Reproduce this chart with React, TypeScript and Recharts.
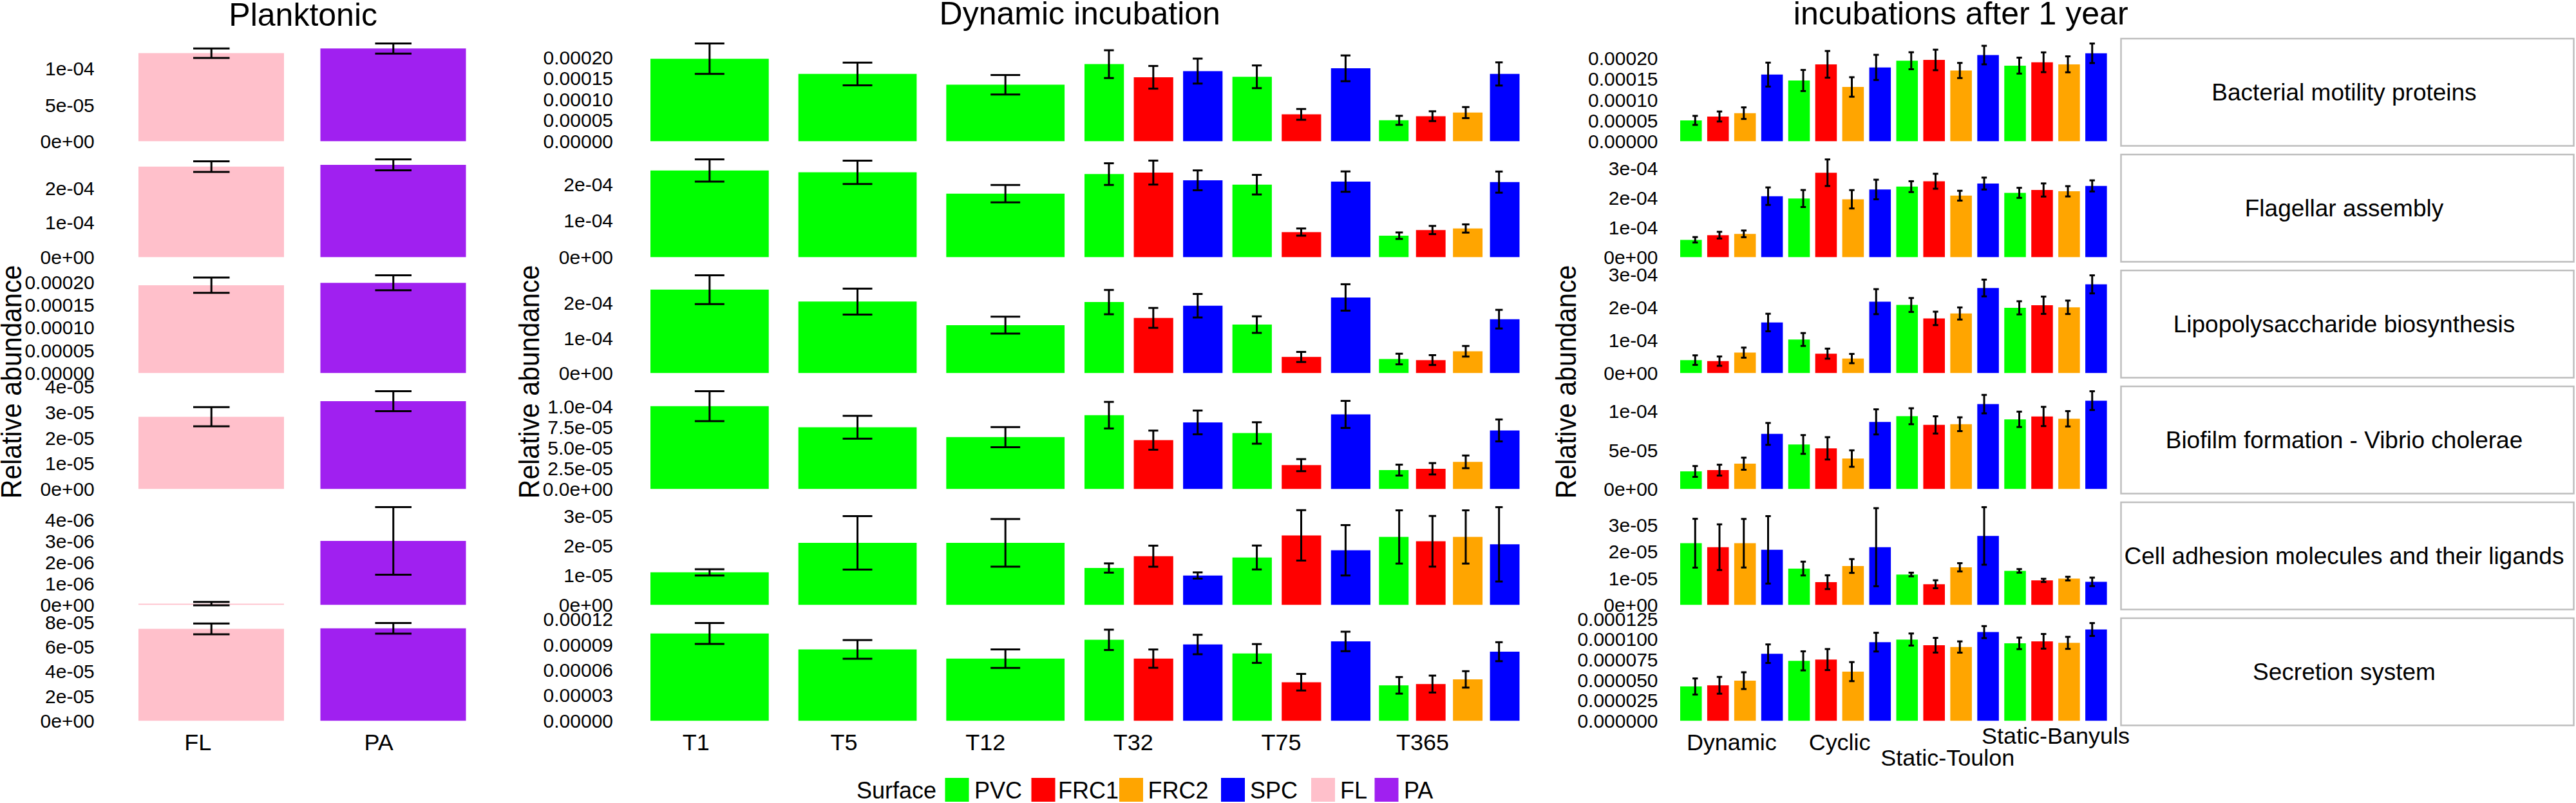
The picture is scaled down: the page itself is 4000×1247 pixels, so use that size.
import React from "react";
import {
  Bar,
  Cell,
  ComposedChart,
  ErrorBar,
  Scatter,
  XAxis,
  YAxis,
} from "recharts";

// All abundance values are in units of 1e-5
const surfaceColors: Record<string, string> = {
  PVC: "#00ff00",
  FRC1: "#ff0000",
  FRC2: "#ffa500",
  SPC: "#0000ff",
  FL: "#ffc0cb",
  PA: "#a020f0",
};
const legendItems = ["PVC", "FRC1", "FRC2", "SPC", "FL", "PA"];

const pathways = [
  "Bacterial motility proteins",
  "Flagellar assembly",
  "Lipopolysaccharide biosynthesis",
  "Biofilm formation - Vibrio cholerae",
  "Cell adhesion molecules and their ligands",
  "Secretion system",
];

const plankLabels = ["FL", "PA"];
const plankSurfaces = [["FL"], ["PA"]];
const dynamicLabels = ["T1", "T5", "T12", "T32", "T75", "T365"];
const dynamicSurfaces = [
  ["PVC"],
  ["PVC"],
  ["PVC"],
  ["PVC", "FRC1", "SPC"],
  ["PVC", "FRC1", "SPC"],
  ["PVC", "FRC1", "FRC2", "SPC"],
];
const yearLabels = ["Dynamic", "Cyclic", "Static-Toulon", "Static-Banyuls"];
const yearSurfaces = [
  ["PVC", "FRC1", "FRC2", "SPC"],
  ["PVC", "FRC1", "FRC2", "SPC"],
  ["PVC", "FRC1", "FRC2", "SPC"],
  ["PVC", "FRC1", "FRC2", "SPC"],
];

// Planktonic
const plankMotilityMean = [12.13, 12.77];
const plankMotilitySe = [0.66, 0.69];
const plankFlagellarMean = [26.2, 26.7];
const plankFlagellarSe = [1.53, 1.57];
const plankLpsMean = [19.3, 19.83];
const plankLpsSe = [1.67, 1.64];
const plankBiofilmMean = [2.83, 3.44];
const plankBiofilmSe = [0.374, 0.389];
const plankAdhesionMean = [0.0055, 0.3006];
const plankAdhesionSe = [0.008, 0.159];
const plankSecretionMean = [7.46, 7.5];
const plankSecretionSe = [0.44, 0.43];

// Dynamic incubation
const dynMotilityMean = [19.7, 16.06, 13.48, 18.4, 15.26, 16.74, 15.38, 6.4, 17.4, 4.98, 5.97, 6.83, 16.06];
const dynMotilitySe = [3.63, 2.71, 2.34, 3.32, 2.71, 2.98, 2.71, 1.29, 3.08, 1.08, 1.17, 1.32, 2.77];
const dynFlagellarMean = [23.83, 23.33, 17.45, 22.84, 23.26, 21.13, 19.93, 6.88, 20.78, 5.89, 7.45, 7.87, 20.64];
const dynFlagellarSe = [3.05, 3.23, 2.38, 2.98, 3.3, 2.73, 2.7, 0.99, 2.8, 0.89, 1.13, 1.13, 2.91];
const dynLpsMean = [23.85, 20.44, 13.7, 20.3, 15.78, 19.26, 13.85, 4.59, 21.63, 4.0, 3.7, 6.22, 15.41];
const dynLpsSe = [4.11, 3.7, 2.41, 3.48, 2.85, 3.37, 2.37, 1.44, 3.78, 1.52, 1.41, 1.52, 2.67];
const dynBiofilmMean = [10.03, 7.47, 6.28, 8.94, 5.91, 8.06, 6.78, 2.88, 9.03, 2.28, 2.44, 3.28, 7.09];
const dynBiofilmSe = [1.81, 1.39, 1.22, 1.61, 1.16, 1.44, 1.3, 0.73, 1.64, 0.66, 0.69, 0.77, 1.33];
const dynAdhesionMean = [1.1, 2.1, 2.1, 1.247, 1.648, 0.994, 1.604, 2.354, 1.848, 2.3, 2.153, 2.3, 2.05];
const dynAdhesionSe = [0.105, 0.907, 0.806, 0.157, 0.357, 0.105, 0.405, 0.854, 0.854, 0.902, 0.859, 0.902, 1.26];
const dynSecretionMean = [10.3, 8.42, 7.33, 9.55, 7.33, 9.0, 7.94, 4.55, 9.36, 4.18, 4.33, 4.88, 8.15];
const dynSecretionSe = [1.23, 1.11, 1.09, 1.2, 1.08, 1.15, 1.11, 0.98, 1.15, 0.98, 1.0, 0.97, 1.12];

// incubations after 1 year
const yearMotilityMean = [5.03, 5.96, 6.77, 16.09, 14.66, 18.57, 13.1, 17.83, 19.44, 19.63, 17.08, 20.81, 18.26, 19.07, 18.57, 21.24];
const yearMotilitySe = [1.09, 1.21, 1.4, 2.89, 2.55, 3.23, 2.36, 3.04, 2.05, 2.48, 1.83, 2.24, 1.93, 2.39, 1.93, 2.36];
const yearFlagellarMean = [5.84, 7.41, 7.85, 20.58, 19.79, 28.51, 19.53, 22.84, 23.8, 25.63, 20.75, 24.85, 21.71, 22.67, 22.23, 24.06];
const yearFlagellarSe = [0.92, 1.13, 1.13, 2.96, 2.88, 4.49, 3.1, 3.31, 1.83, 2.53, 1.66, 2.01, 1.7, 2.22, 1.74, 1.87];
const yearLpsMean = [3.94, 3.62, 6.22, 15.43, 10.24, 5.91, 4.41, 21.81, 20.79, 16.69, 18.19, 25.98, 19.92, 20.71, 20.08, 27.09];
const yearLpsSe = [1.46, 1.42, 1.54, 2.68, 1.97, 1.54, 1.42, 3.82, 2.13, 2.05, 1.85, 2.56, 2.01, 2.64, 2.05, 2.76];
const yearBiofilmMean = [2.25, 2.42, 3.25, 7.09, 5.73, 5.23, 3.91, 8.64, 9.37, 8.25, 8.34, 10.93, 8.97, 9.34, 9.04, 11.38];
const yearBiofilmSe = [0.7, 0.7, 0.78, 1.41, 1.21, 1.44, 1.06, 1.62, 1.03, 1.11, 0.89, 1.19, 0.99, 1.24, 0.99, 1.21];
const yearAdhesionMean = [2.32, 2.17, 2.32, 2.07, 1.365, 0.852, 1.462, 2.17, 1.142, 0.774, 1.413, 2.594, 1.278, 0.92, 0.987, 0.864];
const yearAdhesionSe = [0.92, 0.86, 0.915, 1.27, 0.26, 0.26, 0.26, 1.47, 0.068, 0.15, 0.155, 1.084, 0.068, 0.06, 0.07, 0.16];
const yearSecretionMean = [4.2, 4.35, 4.92, 8.23, 7.35, 7.51, 6.03, 9.65, 9.97, 9.27, 9.05, 10.88, 9.5, 9.75, 9.56, 11.2];
const yearSecretionSe = [0.99, 1.03, 1.03, 1.14, 1.17, 1.29, 1.17, 1.15, 0.74, 0.9, 0.69, 0.74, 0.71, 0.9, 0.74, 0.79];

// y axis ticks
const ticks5 = [0, 5, 10, 15, 20];
const labels5 = ["0.00000", "0.00005", "0.00010", "0.00015", "0.00020"];
const ticks10 = [0, 10, 20];
const labels10 = ["0e+00", "1e-04", "2e-04"];
const ticks30 = [0, 10, 20, 30];
const labels30 = ["0e+00", "1e-04", "2e-04", "3e-04"];
const ticksHalf = [0, 5, 10];
const labelsHalf = ["0e+00", "5e-05", "1e-04"];
const ticks3e5 = [0, 1, 2, 3];
const labels3e5 = ["0e+00", "1e-05", "2e-05", "3e-05"];

const plankPanels = [
  { mean: plankMotilityMean, se: plankMotilitySe, ticks: ticksHalf, labels: labelsHalf },
  { mean: plankFlagellarMean, se: plankFlagellarSe, ticks: ticks10, labels: labels10 },
  { mean: plankLpsMean, se: plankLpsSe, ticks: ticks5, labels: labels5 },
  { mean: plankBiofilmMean, se: plankBiofilmSe, ticks: [0, 1, 2, 3, 4], labels: ["0e+00", "1e-05", "2e-05", "3e-05", "4e-05"] },
  { mean: plankAdhesionMean, se: plankAdhesionSe, ticks: [0, 0.1, 0.2, 0.3, 0.4], labels: ["0e+00", "1e-06", "2e-06", "3e-06", "4e-06"] },
  { mean: plankSecretionMean, se: plankSecretionSe, ticks: [0, 2, 4, 6, 8], labels: ["0e+00", "2e-05", "4e-05", "6e-05", "8e-05"] },
];
const dynPanels = [
  { mean: dynMotilityMean, se: dynMotilitySe, ticks: ticks5, labels: labels5 },
  { mean: dynFlagellarMean, se: dynFlagellarSe, ticks: ticks10, labels: labels10 },
  { mean: dynLpsMean, se: dynLpsSe, ticks: ticks10, labels: labels10 },
  { mean: dynBiofilmMean, se: dynBiofilmSe, ticks: [0, 2.5, 5, 7.5, 10], labels: ["0.0e+00", "2.5e-05", "5.0e-05", "7.5e-05", "1.0e-04"] },
  { mean: dynAdhesionMean, se: dynAdhesionSe, ticks: ticks3e5, labels: labels3e5 },
  { mean: dynSecretionMean, se: dynSecretionSe, ticks: [0, 3, 6, 9, 12], labels: ["0.00000", "0.00003", "0.00006", "0.00009", "0.00012"] },
];
const yearPanels = [
  { mean: yearMotilityMean, se: yearMotilitySe, ticks: ticks5, labels: labels5 },
  { mean: yearFlagellarMean, se: yearFlagellarSe, ticks: ticks30, labels: labels30 },
  { mean: yearLpsMean, se: yearLpsSe, ticks: ticks30, labels: labels30 },
  { mean: yearBiofilmMean, se: yearBiofilmSe, ticks: ticksHalf, labels: labelsHalf },
  { mean: yearAdhesionMean, se: yearAdhesionSe, ticks: ticks3e5, labels: labels3e5 },
  { mean: yearSecretionMean, se: yearSecretionSe, ticks: [0, 2.5, 5, 7.5, 10, 12.5], labels: ["0.000000", "0.000025", "0.000050", "0.000075", "0.000100", "0.000125"] },
];

const FONT = "'Liberation Sans', Arial, sans-serif";
const AXIS_W = 170; // room for the y tick labels, left of the plot
const RIGHT_ROOM = 60; // Static-Banyuls sticks out past the last band
const PAD = 24; // room for tick labels that stick out above/below a panel
const PANEL_H = 166.8;
const ROW_STEP = 180;
const PANEL_TOP = 60;
const LABEL_H = 100;

const columns = [
  { id: "plank", plotLeft: 186.7, plotRight: 751.7, tickGap: 40.2, panels: plankPanels, surfaces: plankSurfaces, xLabels: plankLabels, xAnchor: "end", xDy: [6, 6] },
  { id: "dyn", plotLeft: 987, plotRight: 2365, tickGap: 35, panels: dynPanels, surfaces: dynamicSurfaces, xLabels: dynamicLabels, xAnchor: "end", xDy: [6, 6, 6, 6, 6, 6] },
  { id: "year", plotLeft: 2604.5, plotRight: 3275.5, tickGap: 30.5, panels: yearPanels, surfaces: yearSurfaces, xLabels: yearLabels, xAnchor: "middle", xDy: [6, 6, 30, -4] },
];

type Column = (typeof columns)[number];
type Panel = (typeof plankPanels)[number];

// Bars sit on a full slot of their band, error bars on a 0.9 dodge, as ggplot does
const buildRows = (surfaces: string[][], panel: Panel) => {
  const rows: any[] = [];
  const errs: any[] = [];
  let i = 0;
  surfaces.forEach((group, band) => {
    const of = group.length;
    group.forEach((surface, slot) => {
      const mean = panel.mean[i];
      const se = panel.se[i];
      const x = band + (slot + 0.5) / of;
      rows.push({ x, [`x${of}`]: x, surface, [`bar${of}`]: mean });
      errs.push({ ex: band + 0.5 + ((slot - (of - 1) / 2) * 0.9) / of, mean, se, of });
      i += 1;
    });
  });
  return { rows, errs };
};

const PanelChart = ({ column, panel, rowIndex }: { column: Column; panel: Panel; rowIndex: number }) => {
  const { rows, errs } = buildRows(column.surfaces, panel);
  const bands = column.surfaces.length;
  const plotW = column.plotRight - column.plotLeft;
  const bandW = plotW / bands;
  const slotCounts = [...new Set(column.surfaces.map((g) => g.length))];
  const top = Math.max(...panel.mean.map((m, i) => m + panel.se[i]));
  const showLabels = rowIndex === 5;
  const bottom = showLabels ? LABEL_H : PAD;
  const centers = column.surfaces.map((_, b) => b + 0.5);

  const renderXTick = (props: any) => (
    <text
      x={props.x}
      y={props.y + column.xDy[props.index]}
      textAnchor={column.xAnchor}
      fontSize={36}
      fontFamily={FONT}
      fill="#000"
    >
      {column.xLabels[props.index]}
    </text>
  );

  return (
    <div
      style={{
        position: "absolute",
        left: column.plotLeft - AXIS_W,
        top: PANEL_TOP + ROW_STEP * rowIndex - PAD,
      }}
    >
      <ComposedChart
        width={AXIS_W + plotW + RIGHT_ROOM}
        height={PAD + PANEL_H + bottom}
        data={rows}
        margin={{ top: PAD, right: RIGHT_ROOM, bottom: showLabels ? 0 : PAD, left: 0 }}
      >
        {slotCounts.map((of) => (
          <XAxis
            key={of}
            xAxisId={`of${of}`}
            dataKey={`x${of}`}
            type="number"
            domain={[0, bands]}
            allowDataOverflow
            hide
          />
        ))}
        <XAxis xAxisId="err" dataKey="ex" type="number" domain={[0, bands]} allowDataOverflow hide />
        <XAxis
          xAxisId="labels"
          dataKey="x"
          type="number"
          domain={[0, bands]}
          allowDataOverflow
          ticks={centers}
          interval={0}
          hide={!showLabels}
          height={LABEL_H}
          axisLine={false}
          tickLine={false}
          tickSize={0}
          tick={renderXTick}
        />
        <YAxis
          dataKey="mean"
          type="number"
          width={AXIS_W}
          domain={[-0.05 * top, 1.05 * top]}
          allowDataOverflow
          ticks={panel.ticks}
          interval={0}
          axisLine={false}
          tickLine={false}
          tickSize={0}
          tickMargin={column.tickGap}
          tick={{ fontSize: 30, fill: "#000", fontFamily: FONT }}
          tickFormatter={(_: number, index: number) => panel.labels[index]}
        />
        {slotCounts.map((of) => (
          <Bar
            key={of}
            xAxisId={`of${of}`}
            dataKey={`bar${of}`}
            barSize={(0.8 * bandW) / of}
            isAnimationActive={false}
          >
            {rows.map((r, i) => (
              <Cell key={`cell-${i}`} fill={surfaceColors[r.surface]} />
            ))}
          </Bar>
        ))}
        {slotCounts.map((of) => (
          <Scatter
            key={of}
            xAxisId="err"
            data={errs.filter((e) => e.of === of)}
            shape={() => null}
            isAnimationActive={false}
          >
            <ErrorBar
              dataKey="se"
              direction="y"
              width={(0.1 * bandW) / of}
              stroke="#000"
              strokeWidth={3}
              isAnimationActive={false}
            />
          </Scatter>
        ))}
      </ComposedChart>
    </div>
  );
};

const legendSwatchX = [1467.5, 1601.5, 1738, 1896, 2036, 2134.5];
const legendTextX = [1513, 1643, 1782.5, 1941, 2081, 2180];
const yLabelX = [33, 837, 2447];
const titles = [
  { text: "Planktonic", x: 470.7, y: 40 },
  { text: "Dynamic incubation", x: 1676.7, y: 38 },
  { text: "incubations after 1 year", x: 3044.7, y: 38 },
];

const Overlay = () => (
  <svg
    width={4000}
    height={1247}
    style={{ position: "absolute", left: 0, top: 0 }}
    fontFamily={FONT}
  >
    {titles.map((t) => (
      <text key={t.text} x={t.x} y={t.y} fontSize={50} textAnchor="middle" fill="#000">
        {t.text}
      </text>
    ))}
    {yLabelX.map((x) => (
      <text
        key={x}
        transform={`translate(${x} 593) rotate(-90) scale(1 1.09)`}
        fontSize={41}
        textAnchor="middle"
        fill="#000"
      >
        Relative abundance
      </text>
    ))}
    {pathways.map((p, i) => (
      <g key={p}>
        <rect
          x={3293.5}
          y={60 + ROW_STEP * i}
          width={703}
          height={166.5}
          fill="#fff"
          stroke="#bebebe"
          strokeWidth={2.5}
        />
        <text
          x={3640}
          y={156 + ROW_STEP * i}
          fontSize={37}
          textAnchor="middle"
          fill="#000"
        >
          {p}
        </text>
      </g>
    ))}
    <text x={1330} y={1240} fontSize={36} fill="#000">
      Surface
    </text>
    {legendItems.map((s, i) => (
      <g key={s}>
        <rect x={legendSwatchX[i]} y={1208} width={37} height={37} fill={surfaceColors[s]} />
        <text x={legendTextX[i]} y={1240} fontSize={36} fill="#000">
          {s}
        </text>
      </g>
    ))}
  </svg>
);

export default function App() {
  return (
    <div style={{ position: "absolute", left: 0, top: 0, width: 4000, height: 1247, background: "#fff", overflow: "hidden" }}>
      <Overlay />
      {columns.map((column) =>
        column.panels.map((panel, rowIndex) => (
          <PanelChart key={`${column.id}-${rowIndex}`} column={column} panel={panel} rowIndex={rowIndex} />
        )),
      )}
    </div>
  );
}
